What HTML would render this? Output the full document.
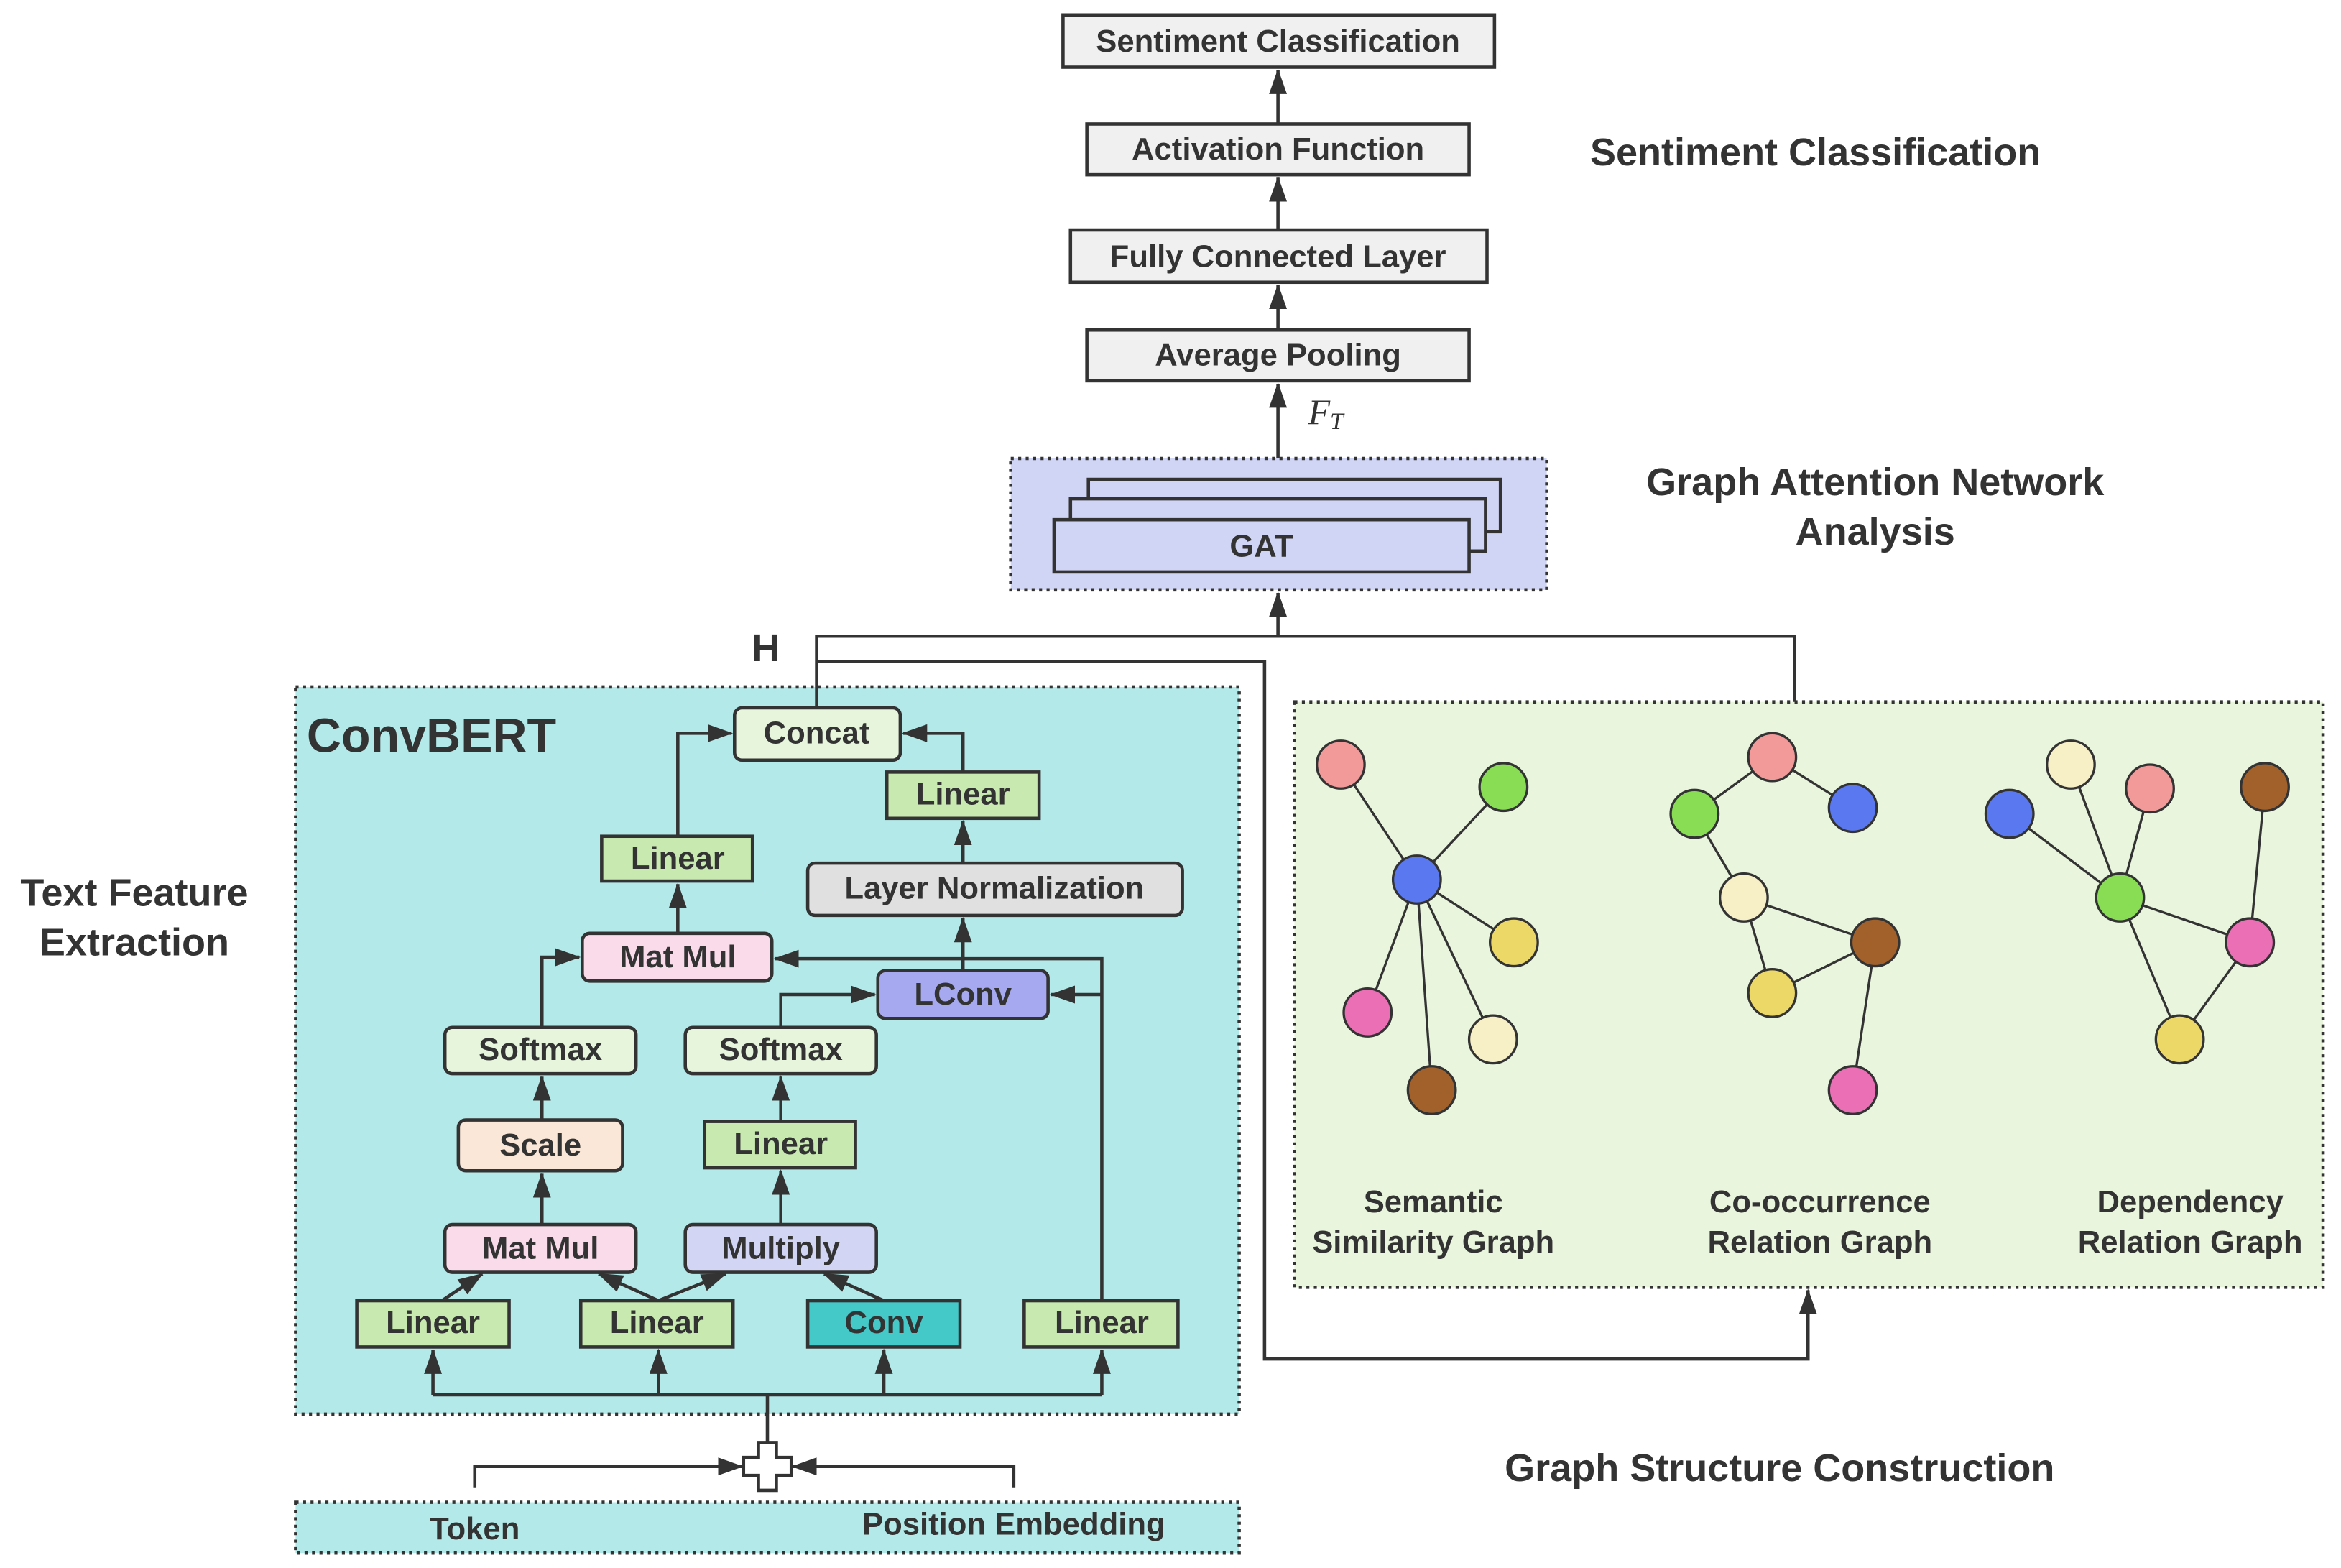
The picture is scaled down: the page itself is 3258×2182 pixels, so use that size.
<!DOCTYPE html>
<html><head><meta charset="utf-8"><style>
html,body{margin:0;padding:0;background:#fff}
svg{display:block}
text{font-family:"Liberation Sans","DejaVu Sans",sans-serif;fill:#333;text-anchor:middle;dominant-baseline:central}
</style></head><body>
<svg width="3258" height="2182" viewBox="0 0 1568 1050" preserveAspectRatio="none" xmlns="http://www.w3.org/2000/svg">
<defs>
<marker id="a" markerUnits="userSpaceOnUse" markerWidth="18" markerHeight="14" refX="16" refY="6" orient="auto">
<path d="M0,0 L17,6 L0,12 Z" fill="#333"/></marker>
</defs>
<g stroke="#333" stroke-width="2.2" fill="none">
<rect x="198" y="460" width="632" height="487" fill="#b4e9e9" stroke-dasharray="2,3"/>
<rect x="198" y="1006" width="632" height="34" fill="#b4e9e9" stroke-dasharray="2,3"/>
<rect x="867" y="470" width="689" height="392" fill="#e9f5dc" stroke-dasharray="2,3"/>
<rect x="677" y="307" width="359" height="88" fill="#d0d4f5" stroke-dasharray="2,3"/>
<rect x="712" y="10" width="289" height="35" fill="#f0f0f0"/>
<rect x="728" y="83" width="256" height="34" fill="#f0f0f0"/>
<rect x="717" y="154" width="279" height="35" fill="#f0f0f0"/>
<rect x="728" y="221" width="256" height="34" fill="#f0f0f0"/>
<rect x="729" y="321" width="276" height="35" fill="#d0d4f5"/>
<rect x="717" y="334" width="278" height="35" fill="#d0d4f5"/>
<rect x="706" y="348" width="278" height="35" fill="#d0d4f5"/>
<line x1="856" y1="83" x2="856" y2="47" marker-end="url(#a)"/>
<line x1="856" y1="154" x2="856" y2="119" marker-end="url(#a)"/>
<line x1="856" y1="221" x2="856" y2="191" marker-end="url(#a)"/>
<line x1="856" y1="307" x2="856" y2="257" marker-end="url(#a)"/>
<line x1="856" y1="426" x2="856" y2="397" marker-end="url(#a)"/>
<polyline points="547,474 547,426 1202,426 1202,470"/>
<polyline points="547,443 847,443 847,910 1211,910 1211,864" marker-end="url(#a)"/>
<rect x="492" y="474" width="111" height="35" rx="5" fill="#e6f5dc"/>
<rect x="594" y="517" width="102" height="31" fill="#c8eab0"/>
<rect x="403" y="560" width="101" height="30" fill="#c8eab0"/>
<rect x="541" y="578" width="251" height="35" rx="5" fill="#e0e0e0"/>
<rect x="390" y="625" width="127" height="32" rx="5" fill="#f9dbea"/>
<rect x="588" y="650" width="114" height="32" rx="5" fill="#a6a9f0"/>
<rect x="298" y="688" width="128" height="31" rx="5" fill="#e6f5dc"/>
<rect x="459" y="688" width="128" height="31" rx="5" fill="#e6f5dc"/>
<rect x="307" y="750" width="110" height="34" rx="5" fill="#fbe7d8"/>
<rect x="472" y="751" width="101" height="31" fill="#c8eab0"/>
<rect x="298" y="820" width="128" height="32" rx="5" fill="#f9dbea"/>
<rect x="459" y="820" width="128" height="32" rx="5" fill="#d3d5f5"/>
<rect x="239" y="871" width="102" height="31" fill="#c8eab0"/>
<rect x="389" y="871" width="102" height="31" fill="#c8eab0"/>
<rect x="541" y="871" width="102" height="31" fill="#44c8c8"/>
<rect x="686" y="871" width="103" height="31" fill="#c8eab0"/>
<polyline points="290,934 738,934"/>
<line x1="290" y1="934" x2="290" y2="904" marker-end="url(#a)"/>
<line x1="441" y1="934" x2="441" y2="904" marker-end="url(#a)"/>
<line x1="592" y1="934" x2="592" y2="904" marker-end="url(#a)"/>
<line x1="738" y1="934" x2="738" y2="904" marker-end="url(#a)"/>
<line x1="514" y1="934" x2="514" y2="970"/>
<line x1="296" y1="871" x2="323" y2="853" marker-end="url(#a)"/>
<line x1="441" y1="871" x2="401" y2="853" marker-end="url(#a)"/>
<line x1="441" y1="871" x2="486" y2="853" marker-end="url(#a)"/>
<line x1="592" y1="871" x2="552" y2="853" marker-end="url(#a)"/>
<line x1="363" y1="820" x2="363" y2="786" marker-end="url(#a)"/>
<line x1="363" y1="750" x2="363" y2="721" marker-end="url(#a)"/>
<polyline points="363,688 363,641 388,641" marker-end="url(#a)"/>
<line x1="523" y1="820" x2="523" y2="784" marker-end="url(#a)"/>
<line x1="523" y1="751" x2="523" y2="721" marker-end="url(#a)"/>
<polyline points="523,688 523,666 586,666" marker-end="url(#a)"/>
<polyline points="738,871 738,642 519,642" marker-end="url(#a)"/>
<polyline points="738,666 704,666" marker-end="url(#a)"/>
<line x1="645" y1="650" x2="645" y2="615" marker-end="url(#a)"/>
<line x1="645" y1="578" x2="645" y2="550" marker-end="url(#a)"/>
<polyline points="645,517 645,491 605,491" marker-end="url(#a)"/>
<line x1="454" y1="625" x2="454" y2="592" marker-end="url(#a)"/>
<polyline points="454,560 454,491 490,491" marker-end="url(#a)"/>
<polyline points="318,996 318,982 497,982" marker-end="url(#a)"/>
<polyline points="679,996 679,982 531,982" marker-end="url(#a)"/>
<path d="M508,966 h12 v10 h10 v12 h-10 v10 h-12 v-10 h-10 v-12 h10 z" fill="#fff"/>
<g stroke-width="1.6">
<line x1="949" y1="589" x2="898" y2="512"/><line x1="949" y1="589" x2="1007" y2="527"/>
<line x1="949" y1="589" x2="1014" y2="631"/><line x1="949" y1="589" x2="916" y2="678"/>
<line x1="949" y1="589" x2="1000" y2="696"/><line x1="949" y1="589" x2="959" y2="730"/>
<line x1="1135" y1="545" x2="1187" y2="507"/><line x1="1187" y1="507" x2="1241" y2="541"/>
<line x1="1135" y1="545" x2="1168" y2="601"/><line x1="1168" y1="601" x2="1256" y2="631"/>
<line x1="1168" y1="601" x2="1187" y2="665"/><line x1="1187" y1="665" x2="1256" y2="631"/>
<line x1="1256" y1="631" x2="1241" y2="730"/>
<line x1="1346" y1="545" x2="1420" y2="601"/><line x1="1387" y1="512" x2="1420" y2="601"/>
<line x1="1440" y1="528" x2="1420" y2="601"/><line x1="1420" y1="601" x2="1507" y2="631"/>
<line x1="1420" y1="601" x2="1460" y2="696"/><line x1="1517" y1="527" x2="1507" y2="631"/>
<line x1="1507" y1="631" x2="1460" y2="696"/>
</g>
<g stroke-width="1.6">
<circle cx="898" cy="512" r="16" fill="#f29a9a"/><circle cx="1007" cy="527" r="16" fill="#88dd55"/>
<circle cx="949" cy="589" r="16" fill="#5a78f0"/><circle cx="1014" cy="631" r="16" fill="#ecd867"/>
<circle cx="916" cy="678" r="16" fill="#ea6fb5"/><circle cx="1000" cy="696" r="16" fill="#f7efc5"/>
<circle cx="959" cy="730" r="16" fill="#a2612a"/>
<circle cx="1187" cy="507" r="16" fill="#f29a9a"/><circle cx="1135" cy="545" r="16" fill="#88dd55"/>
<circle cx="1241" cy="541" r="16" fill="#5a78f0"/><circle cx="1168" cy="601" r="16" fill="#f7efc5"/>
<circle cx="1256" cy="631" r="16" fill="#a2612a"/><circle cx="1187" cy="665" r="16" fill="#ecd867"/>
<circle cx="1241" cy="730" r="16" fill="#ea6fb5"/>
<circle cx="1346" cy="545" r="16" fill="#5a78f0"/><circle cx="1387" cy="512" r="16" fill="#f7efc5"/>
<circle cx="1440" cy="528" r="16" fill="#f29a9a"/><circle cx="1517" cy="527" r="16" fill="#a2612a"/>
<circle cx="1420" cy="601" r="16" fill="#88dd55"/><circle cx="1507" cy="631" r="16" fill="#ea6fb5"/>
<circle cx="1460" cy="696" r="16" fill="#ecd867"/>
</g>
</g>
<g font-size="21" font-weight="bold">
<text x="856" y="28">Sentiment Classification</text>
<text x="856" y="100">Activation Function</text>
<text x="856" y="172">Fully Connected Layer</text>
<text x="856" y="238">Average Pooling</text>
<text x="845" y="366">GAT</text>
<text x="547" y="491">Concat</text>
<text x="645" y="532">Linear</text>
<text x="454" y="575">Linear</text>
<text x="666" y="595">Layer Normalization</text>
<text x="454" y="641">Mat Mul</text>
<text x="645" y="666">LConv</text>
<text x="362" y="703">Softmax</text>
<text x="523" y="703">Softmax</text>
<text x="362" y="767">Scale</text>
<text x="523" y="766">Linear</text>
<text x="362" y="836">Mat Mul</text>
<text x="523" y="836">Multiply</text>
<text x="290" y="886">Linear</text>
<text x="440" y="886">Linear</text>
<text x="592" y="886">Conv</text>
<text x="738" y="886">Linear</text>
<text x="318" y="1024">Token</text>
<text x="679" y="1021">Position Embedding</text>
<text x="960" y="805">Semantic</text><text x="960" y="832">Similarity Graph</text>
<text x="1219" y="805">Co-occurrence</text><text x="1219" y="832">Relation Graph</text>
<text x="1467" y="805">Dependency</text><text x="1467" y="832">Relation Graph</text>
</g>
<g font-size="26" font-weight="bold">
<text x="1216" y="102">Sentiment Classification</text>
<text x="1256" y="323">Graph Attention Network</text>
<text x="1256" y="356">Analysis</text>
<text x="90" y="598">Text Feature</text>
<text x="90" y="631">Extraction</text>
<text x="1192" y="983">Graph Structure Construction</text>
<text x="513" y="434">H</text>
</g>
<text x="289" y="493" font-size="32" font-weight="bold">ConvBERT</text>
<text x="888" y="276" font-size="24" font-style="italic" style="font-family:'Liberation Serif',serif">F<tspan font-size="16" dy="6">T</tspan></text>
</svg>
</body></html>
